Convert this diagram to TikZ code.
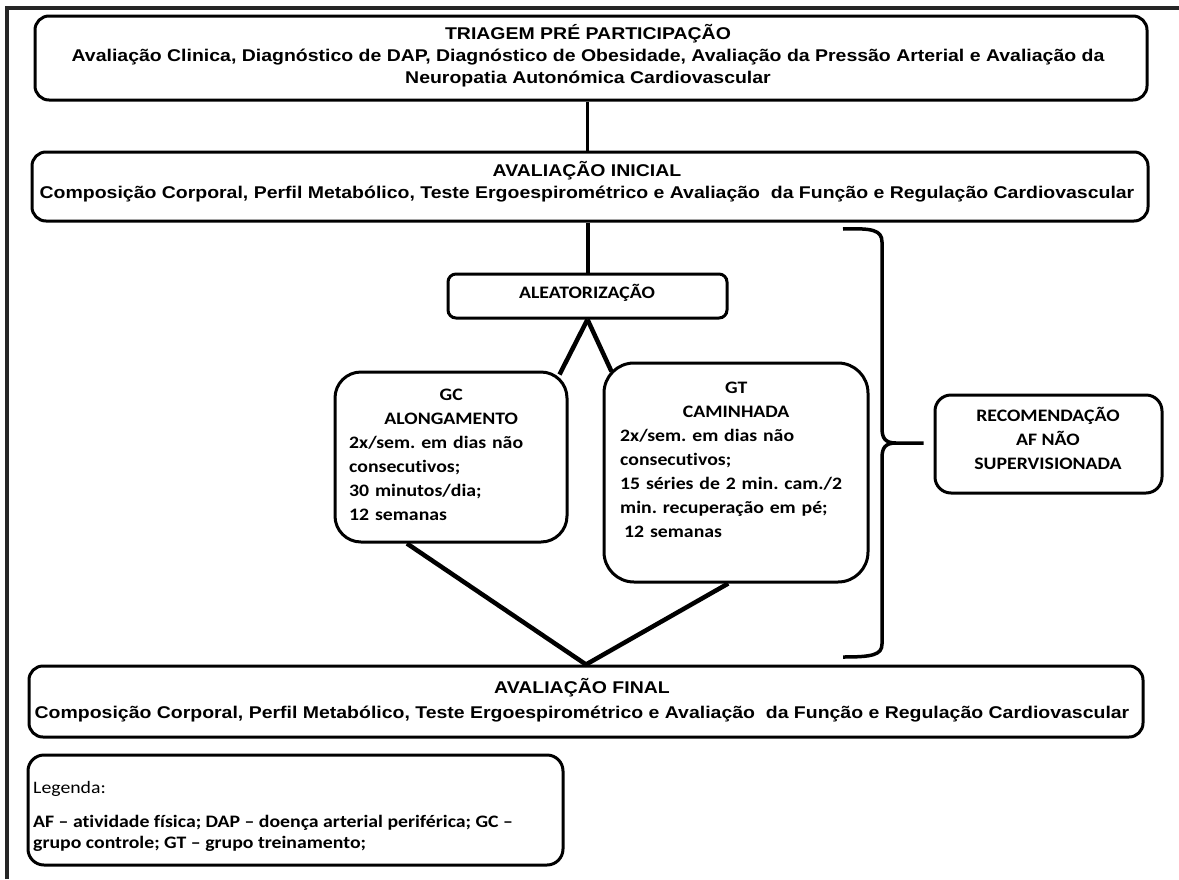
\documentclass[tikz,border=0pt]{standalone}
\usepackage{fontspec}
\setmainfont[FakeStretch=1.145]{Liberation Sans}
\newfontfamily\calib[FakeStretch=1.13, RawFeature={-liga}]{Carlito}
\usetikzlibrary{calc}
\frenchspacing
\begin{document}
\begin{tikzpicture}[x=1pt,y=-1pt,
  box/.style={draw, line width=3pt, fill=white, inner sep=0pt, rounded corners=#1},
  box/.default=14pt,
  maintxt/.style={align=center, inner sep=0pt, font=\bfseries\fontsize{17}{22}\selectfont},
  caltxt/.style={inner sep=0pt, font=\calib\bfseries\fontsize{17.5}{24}\selectfont},
  conn/.style={line width=4.5pt},
]
\useasboundingbox (0,0) rectangle (1179,879);
\fill[white] (0,0) rectangle (1179,879);
% frame (top and left edges only)
\coordinate (fr0) at (7,879);
\coordinate (fr1) at (7,8);
\coordinate (fr2) at (1179,8);
\draw[line width=3.5pt, black!85, line join=miter] (fr0) -- (fr1) -- (fr2);

% boxes
\node[box, minimum width=1112pt, minimum height=84pt] (b1) at (591,58) {};
\node[maintxt] (b1t) at (588,56) {TRIAGEM PRÉ PARTICIPAÇÃO\\
Avaliação Clinica, Diagnóstico de DAP, Diagnóstico de Obesidade, Avaliação da Pressão Arterial e Avaliação da\\
Neuropatia Autonómica Cardiovascular};

\node[box, minimum width=1116pt, minimum height=69pt] (b2) at (590,186.5) {};
\node[maintxt] (b2t) at (587,182) {AVALIAÇÃO INICIAL\\
Composição Corporal, Perfil Metabólico, Teste Ergoespirométrico e Avaliação \ da Função e Regulação Cardiovascular};

\node[box=8pt, minimum width=279pt, minimum height=44pt] (alea) at (587.5,296) {};
\node[caltxt] (aleat) at (587,293) {ALEATORIZAÇÃO};

\node[box=26pt, minimum width=232pt, minimum height=170pt] (gc) at (451,457) {};
\node[caltxt, anchor=north west, text width=204pt, align=left] (gct) at (349,389)
{\makebox[204pt]{GC}\\
\makebox[204pt]{ALONGAMENTO}\\
2x/sem. em dias não\\
consecutivos;\\
30 minutos/dia;\\
12 semanas};

\node[box=30pt, minimum width=264pt, minimum height=219pt] (gt) at (736,472.5) {};
\node[caltxt, anchor=north west, text width=232pt, align=left] (gtt) at (620,382)
{\makebox[232pt]{GT}\\
\makebox[232pt]{CAMINHADA}\\
2x/sem. em dias não\\
consecutivos;\\
15 séries de 2 min. cam./2\\
min. recuperação em pé;\\
\hspace*{4pt}12 semanas};

\node[box=16pt, minimum width=227pt, minimum height=98pt] (rec) at (1048.5,444) {};
\node[caltxt, align=center] (rect) at (1048,438) {RECOMENDAÇÃO\\AF NÃO\\SUPERVISIONADA};

\node[box, minimum width=1114pt, minimum height=71pt] (fin) at (586,701.5) {};
\node[maintxt, font=\bfseries\fontsize{17}{25}\selectfont] (fint) at (582,700) {AVALIAÇÃO FINAL\\
Composição Corporal, Perfil Metabólico, Teste Ergoespirométrico e Avaliação \ da Função e Regulação Cardiovascular};

\node[box=16pt, minimum width=535pt, minimum height=110pt] (leg) at (295.5,810) {};
\node[anchor=north west, inner sep=0pt, align=left, font=\calib\fontsize{17.5}{20.5}\selectfont] (legt) at (33,781)
{Legenda:\\[14pt]
\textbf{AF – atividade física; DAP – doença arterial periférica; GC –}\\
\textbf{grupo controle; GT – grupo treinamento;}};

% connectors
\draw[line width=3.5pt] (b1.south -| alea) -- (b2.north -| alea);
\draw[line width=4pt] (b2.south -| alea) -- (alea.north);
\coordinate (gcin) at ($(gc.north east)+(-9,4)$);
\coordinate (gtin) at ($(gt.north west)+(9,10)$);
\draw[conn] (alea.south) -- (gcin);
\draw[conn] (alea.south) -- (gtin);
\draw[conn, line join=miter] (gc.243) -- (fin.north) -- (gt.266);

% brace towards the recommendation box
\coordinate (tip) at ($(rec.west)+(-10,-1)$);
\draw[line width=3.5pt] (843,229) .. controls (872,228) and (882,230) .. (882,242) -- (882,428)
  .. controls (882,438) and (885,443) .. (896,443) -- (tip);
\draw[line width=3.5pt] (896,443) .. controls (885,443) and (882,448) .. (882,458) -- (882,644)
  .. controls (882,655) and (872,657) .. (843,657);
\end{tikzpicture}
\end{document}
